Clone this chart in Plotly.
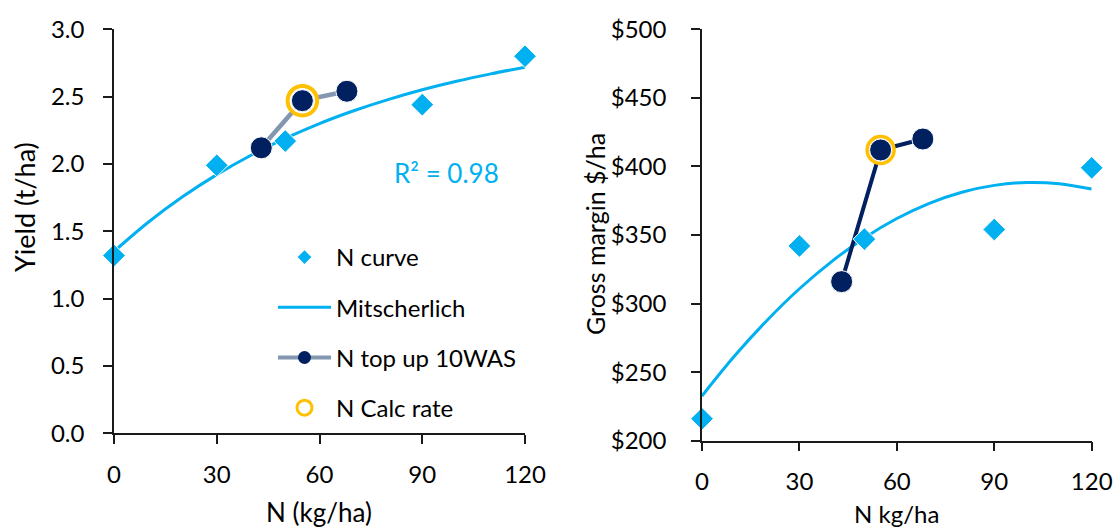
import plotly.graph_objects as go

W, H = 1116, 529

# N rate trial (kg N/ha) and responses
n_rates = [0, 30, 50, 90, 120]
yield_n_curve = [1.32, 1.99, 2.17, 2.44, 2.80]
gm_n_curve = [216, 342, 347, 354, 399]

# Fitted response curves, sampled every 10 kg N/ha
fit_n = [0, 10, 20, 30, 40, 50, 60, 70, 80, 90, 100, 110, 120]
yield_fit = [1.35, 1.567, 1.756, 1.921, 2.065, 2.190, 2.300,
             2.395, 2.478, 2.551, 2.614, 2.669, 2.718]
gm_fit = [232.6, 261.7, 287.7, 310.8, 330.8, 347.9, 362.0,
          373.1, 381.2, 386.2, 388.3, 387.4, 383.5]
r2_label = "R² = 0.98"

# Top-up treatments applied 10 weeks after sowing
topup_n = [43, 55, 68]
yield_topup = [2.12, 2.47, 2.54]
gm_topup = [316, 412, 420]

# Calculated N rate
calc_n = [55]
yield_calc = [2.47]
gm_calc = [412]

# Axis ticks
n_ticks = [0, 30, 60, 90, 120]
yield_ticks = [0.0, 0.5, 1.0, 1.5, 2.0, 2.5, 3.0]
gm_ticks = [200, 250, 300, 350, 400, 450, 500]
gm_tick_text = [f"${v}" for v in gm_ticks]

LIGHT_BLUE = "#00B0F0"
NAVY = "#002060"
SLATE = "#8497B0"
GOLD = "#FFC000"
AXIS = "#1a1a1a"
TEXT = "#000000"
FONT = "Lato"


def px(x):
    return x / W


def py(y):
    return 1 - y / H


fig = go.Figure()

panels = [
    dict(xa="x", ya="y", fit=yield_fit, pts=yield_n_curve, top=yield_topup,
         calc=yield_calc, topline=SLATE, toplw=4.5, ring=29.5, ringw=4),
    dict(xa="x2", ya="y2", fit=gm_fit, pts=gm_n_curve, top=gm_topup,
         calc=gm_calc, topline=NAVY, toplw=4, ring=27, ringw=3.5),
]

for p in panels:
    ax = dict(xaxis=p["xa"], yaxis=p["ya"], showlegend=False, cliponaxis=False,
              hoverinfo="skip")
    fig.add_trace(go.Scatter(x=fit_n, y=p["fit"], mode="lines",
                             line=dict(color=LIGHT_BLUE, width=3, shape="spline"),
                             **ax))
    fig.add_trace(go.Scatter(x=topup_n, y=p["top"], mode="lines",
                             line=dict(color=p["topline"], width=p["toplw"]),
                             **ax))
    fig.add_trace(go.Scatter(x=n_rates, y=p["pts"], mode="markers",
                             marker=dict(symbol="diamond", size=17.5, color=LIGHT_BLUE,
                                         line=dict(color="white", width=1)),
                             **ax))
    fig.add_trace(go.Scatter(x=calc_n, y=p["calc"], mode="markers",
                             marker=dict(symbol="circle", size=p["ring"], color="white",
                                         line=dict(color=GOLD, width=p["ringw"])),
                             **ax))
    fig.add_trace(go.Scatter(x=topup_n, y=p["top"], mode="markers",
                             marker=dict(symbol="circle", size=22, color=NAVY,
                                         line=dict(color="white", width=1)),
                             **ax))

# Legend entries
legend_items = [
    dict(name="N curve", mode="markers",
         marker=dict(symbol="diamond", size=10.5, color=LIGHT_BLUE)),
    dict(name="Mitscherlich", mode="lines",
         line=dict(color=LIGHT_BLUE, width=3)),
    dict(name="N top up 10WAS", mode="lines+markers",
         line=dict(color=SLATE, width=4),
         marker=dict(symbol="circle", size=13, color=NAVY)),
    dict(name="N Calc rate", mode="markers",
         marker=dict(symbol="circle", size=15, color="rgba(0,0,0,0)",
                     line=dict(color=GOLD, width=3))),
]
for i, item in enumerate(legend_items):
    fig.add_trace(go.Scatter(x=[None], y=[None], legendgroup=f"g{i}",
                             showlegend=True, xaxis="x", yaxis="y", **item))

tick_font = dict(family=FONT, size=24, color=TEXT)
common = dict(showline=True, linecolor=AXIS, linewidth=1.5, ticks="outside",
              ticklen=9, tickwidth=1.5, tickcolor=AXIS, showgrid=False,
              zeroline=False, tickfont=tick_font, fixedrange=True,
              automargin=False)

fig.update_layout(
    width=W, height=H,
    margin=dict(l=0, r=0, t=0, b=0, pad=0, autoexpand=False),
    paper_bgcolor="white", plot_bgcolor="white",
    font=dict(family=FONT, color=TEXT),
    xaxis=dict(domain=[px(114), px(525)], range=[0, 120], tickvals=n_ticks,
               anchor="y", ticklabelstandoff=10, **common),
    yaxis=dict(domain=[py(433.3), py(29.3)], range=[0, 3], tickvals=yield_ticks,
               tickformat=".1f", anchor="x", ticklabelstandoff=14, **common),
    xaxis2=dict(domain=[px(702), px(1091.7)], range=[0, 120], tickvals=n_ticks,
                anchor="y2", ticklabelstandoff=10, **common),
    yaxis2=dict(domain=[py(440.7), py(29.3)], range=[200, 500], tickvals=gm_ticks,
                ticktext=gm_tick_text, anchor="x2", ticklabelstandoff=20, **common),
    legend=dict(x=px(273), y=py(235), xanchor="left", yanchor="top",
                font=dict(family=FONT, size=24, color=TEXT),
                bgcolor="rgba(0,0,0,0)", tracegroupgap=16, itemwidth=53),
)

annotations = [
    dict(text="Yield (t/ha)", x=px(25), y=py(207), textangle=-90, size=27),
    dict(text="N (kg/ha)", x=px(319.3), y=py(512), size=26),
    dict(text="Gross margin $/ha", x=px(595), y=py(234), textangle=-90, size=25),
    dict(text="N kg/ha", x=px(896.7), y=py(513), size=24),
]
for a in annotations:
    size = a.pop("size")
    fig.add_annotation(xref="paper", yref="paper", showarrow=False,
                       xanchor="center", yanchor="middle",
                       font=dict(family=FONT, size=size, color=TEXT), **a)

fig.add_annotation(xref="x", yref="y", x=97.1, y=1.93, text=r2_label,
                   showarrow=False, xanchor="center", yanchor="middle",
                   font=dict(family=FONT, size=26, color=LIGHT_BLUE))

fig.write_html("out.html", config=dict(displayModeBar=False))
